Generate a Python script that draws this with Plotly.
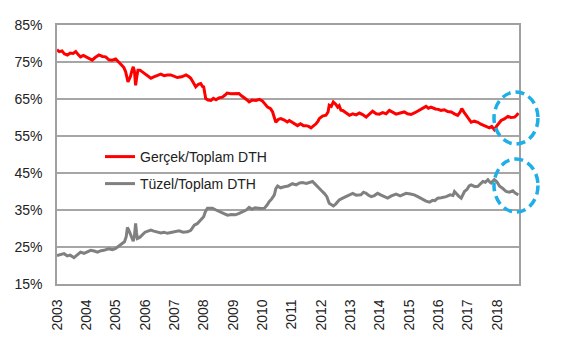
import plotly.graph_objects as go

# ---- data (decimal year, percent) ----
red_t = [2003.00,2003.08,2003.17,2003.25,2003.35,2003.45,2003.55,2003.64,2003.72,2003.80,2003.90,
         2004.00,2004.10,2004.20,2004.30,2004.43,2004.55,2004.66,2004.77,2004.88,
         2005.00,2005.10,2005.20,2005.28,2005.34,2005.42,2005.47,2005.50,2005.56,2005.60,2005.64,2005.68,2005.72,2005.76,2005.83,2005.90,
         2006.00,2006.10,2006.20,2006.30,2006.42,2006.54,2006.65,2006.76,2006.88,
         2007.00,2007.10,2007.25,2007.40,2007.50,2007.56,2007.65,2007.73,2007.82,2007.90,2007.96,
         2008.00,2008.04,2008.07,2008.15,2008.25,2008.33,2008.42,2008.52,2008.64,2008.72,2008.80,2008.92,
         2009.05,2009.20,2009.30,2009.38,2009.47,2009.55,2009.65,2009.78,2009.90,
         2010.00,2010.10,2010.18,2010.28,2010.35,2010.40,2010.46,2010.55,2010.63,2010.75,2010.85,2010.92,
         2011.05,2011.20,2011.30,2011.40,2011.49,2011.58,2011.66,2011.75,2011.83,2011.90,2011.94,
         2012.05,2012.17,2012.24,2012.28,2012.35,2012.42,2012.50,2012.57,2012.62,2012.68,2012.74,2012.85,2012.97,
         2013.08,2013.20,2013.31,2013.42,2013.54,2013.65,2013.76,2013.88,2013.99,
         2014.10,2014.22,2014.33,2014.45,2014.56,2014.70,2014.84,2014.95,
         2015.07,2015.20,2015.35,2015.47,2015.58,2015.66,2015.75,2015.90,
         2016.00,2016.09,2016.20,2016.32,2016.44,2016.55,2016.66,2016.74,2016.80,2016.88,2016.95,
         2017.04,2017.12,2017.22,2017.35,2017.45,2017.57,2017.65,2017.74,2017.82,2017.91,
         2018.00,2018.07,2018.14,2018.25,2018.37,2018.47,2018.60,2018.67,2018.73]
red_v = [78.3,77.8,78.0,77.2,76.9,77.4,77.3,77.8,77.0,76.4,76.8,
         76.4,76.0,75.5,76.2,76.9,76.5,76.4,75.6,75.5,
         75.8,75.1,74.2,73.5,72.4,69.6,70.4,71.0,72.8,73.7,72.5,68.7,71.0,72.8,72.8,72.4,
         71.6,71.2,70.6,71.0,71.4,71.7,71.3,71.5,71.5,
         71.0,70.8,71.0,71.5,71.0,70.6,69.4,68.3,69.0,69.2,68.4,
         68.3,66.5,65.1,64.7,64.6,65.2,64.8,65.3,65.5,66.0,66.6,66.4,
         66.5,66.5,65.8,65.4,64.8,64.2,64.7,64.6,64.9,
         64.5,63.6,62.8,62.4,61.5,60.2,58.7,59.5,59.7,59.3,58.8,59.2,
         58.6,57.8,58.3,57.8,57.8,57.6,57.2,57.7,58.3,59.0,59.7,
         60.4,60.6,61.5,63.3,63.0,64.2,63.6,62.8,63.2,62.0,61.9,61.2,60.6,
         61.0,60.7,61.2,60.8,60.1,61.0,61.7,61.0,60.9,
         61.3,61.0,61.9,61.4,60.9,61.2,61.5,61.0,
         60.8,61.3,61.9,62.4,63.0,62.5,62.8,62.3,
         62.2,61.9,62.1,61.6,61.5,61.0,60.6,61.4,62.4,61.4,60.6,
         59.7,58.7,59.0,58.7,58.2,57.8,57.4,57.2,57.6,56.7,
         57.8,58.6,59.2,59.6,60.3,60.0,60.1,60.6,61.2]

gray_t = [2003.00,2003.10,2003.24,2003.35,2003.45,2003.58,2003.70,2003.80,2003.92,
          2004.04,2004.15,2004.27,2004.38,2004.50,2004.60,2004.75,2004.89,
          2005.00,2005.10,2005.20,2005.30,2005.36,2005.40,2005.45,2005.50,2005.55,2005.60,2005.64,2005.68,2005.71,2005.74,2005.82,2005.90,
          2006.00,2006.10,2006.20,2006.30,2006.42,2006.54,2006.65,2006.76,2006.88,
          2007.00,2007.16,2007.30,2007.45,2007.56,2007.68,2007.78,2007.90,2007.96,
          2008.00,2008.06,2008.13,2008.19,2008.30,2008.42,2008.55,2008.68,2008.81,2008.95,
          2009.08,2009.21,2009.35,2009.45,2009.55,2009.65,2009.75,2009.84,2009.95,
          2010.07,2010.15,2010.24,2010.32,2010.41,2010.46,2010.52,2010.62,2010.75,2010.88,
          2011.03,2011.15,2011.27,2011.37,2011.50,2011.60,2011.71,2011.80,2011.87,2011.94,
          2012.02,2012.11,2012.20,2012.28,2012.35,2012.42,2012.50,2012.62,2012.74,2012.85,2012.97,
          2013.08,2013.20,2013.36,2013.45,2013.54,2013.62,2013.71,2013.82,2013.93,
          2014.05,2014.16,2014.27,2014.40,2014.56,2014.70,2014.80,2014.90,
          2015.05,2015.18,2015.30,2015.40,2015.47,2015.58,2015.70,2015.80,2015.88,2015.98,
          2016.10,2016.27,2016.40,2016.50,2016.55,2016.62,2016.70,2016.78,2016.84,2016.89,2016.98,
          2017.05,2017.12,2017.25,2017.35,2017.45,2017.52,2017.60,2017.69,2017.75,2017.80,2017.86,2017.91,
          2018.00,2018.09,2018.20,2018.31,2018.42,2018.54,2018.62,2018.73]
gray_v = [22.7,22.9,23.2,22.6,22.8,22.1,23.0,23.6,23.3,
          23.8,24.1,23.9,23.6,24.0,24.1,24.5,24.3,
          24.6,25.2,25.8,26.4,27.8,30.3,29.5,28.6,27.6,26.6,28.0,31.4,29.0,27.3,27.6,28.2,
          29.0,29.3,29.6,29.3,29.0,28.8,29.0,28.7,28.9,
          29.2,29.4,29.0,29.1,29.5,30.9,31.3,32.3,32.6,
          33.2,34.6,35.5,35.5,35.5,35.0,34.6,34.0,33.6,33.8,
          33.7,34.1,34.6,35.0,35.7,35.2,35.6,35.5,35.4,
          35.5,36.2,37.3,38.0,39.1,40.8,41.5,41.0,41.3,41.5,
          42.1,41.8,42.3,42.4,42.2,42.5,42.7,42.0,41.5,40.9,
          40.2,39.5,38.6,36.8,36.5,36.1,36.6,37.7,38.2,38.6,39.2,
          39.5,39.0,39.1,39.8,39.5,39.0,38.6,38.9,39.5,
          39.0,38.6,38.2,38.8,39.3,38.8,39.2,39.5,
          39.3,39.1,38.6,38.2,37.7,37.4,37.1,37.6,37.5,38.2,
          38.3,38.6,39.1,38.9,40.0,39.3,38.7,38.2,39.2,40.0,40.6,
          41.5,41.8,41.3,41.4,42.3,42.7,42.5,43.2,42.6,42.3,42.8,43.2,
          42.6,41.4,40.8,40.0,39.8,40.2,39.6,39.1]

year_ticks = list(range(2003, 2019))
year_labels = [str(y) for y in year_ticks]
pct_ticks = [15, 25, 35, 45, 55, 65, 75, 85]
pct_labels = [f"{p}%" for p in pct_ticks]

FONT = "Liberation Sans, Arial, sans-serif"

fig = go.Figure()
fig.add_trace(go.Scatter(x=red_t, y=red_v, mode="lines", name="Gerçek/Toplam DTH",
                         line=dict(color="#ff0000", width=3), legend="legend"))
fig.add_trace(go.Scatter(x=gray_t, y=gray_v, mode="lines", name="Tüzel/Toplam DTH",
                         line=dict(color="#808080", width=3), legend="legend2"))

L, R, T, B = 57, 53, 25, 58
W, H = 572, 342
pw, ph = W - L - R, H - T - B

def px(xp):
    return (xp - L) / pw

def py(yp):
    return (H - B - yp) / ph

circ = dict(color="#1eaee8", width=3.5, dash="9px,5px")
fig.add_shape(type="circle", xref="paper", yref="paper",
              x0=px(494), x1=px(538), y0=py(144), y1=py(92), line=circ, layer="above")
fig.add_shape(type="circle", xref="paper", yref="paper",
              x0=px(494), x1=px(538), y0=py(212), y1=py(159), line=circ, layer="above")

fig.update_layout(
    width=W, height=H,
    margin=dict(l=L, r=R, t=T, b=B),
    paper_bgcolor="white", plot_bgcolor="white",
    font=dict(family=FONT, size=14, color="#222222"),
    showlegend=True,
    legend=dict(x=px(100), y=py(157), xanchor="left", yanchor="middle",
                bgcolor="rgba(0,0,0,0)", font=dict(size=14), itemwidth=30),
    legend2=dict(x=px(100), y=py(184), xanchor="left", yanchor="middle",
                 bgcolor="rgba(0,0,0,0)", font=dict(size=14), itemwidth=30),
    xaxis=dict(range=[2003, 2018.75], tickmode="array", tickvals=year_ticks,
               ticktext=year_labels, tickangle=-90, showgrid=False,
               showline=True, linecolor="#a0a0a0", linewidth=1.5, mirror=True,
               ticks="", zeroline=False, ticklabelstandoff=8),
    yaxis=dict(range=[15, 85], tickmode="array", tickvals=pct_ticks,
               ticktext=pct_labels, showgrid=True, gridcolor="#a6a6a6", gridwidth=1.5,
               showline=True, linecolor="#a0a0a0", linewidth=1.5, mirror=True,
               ticks="", zeroline=False, ticklabelstandoff=10),
)

fig.write_html("out.html")
